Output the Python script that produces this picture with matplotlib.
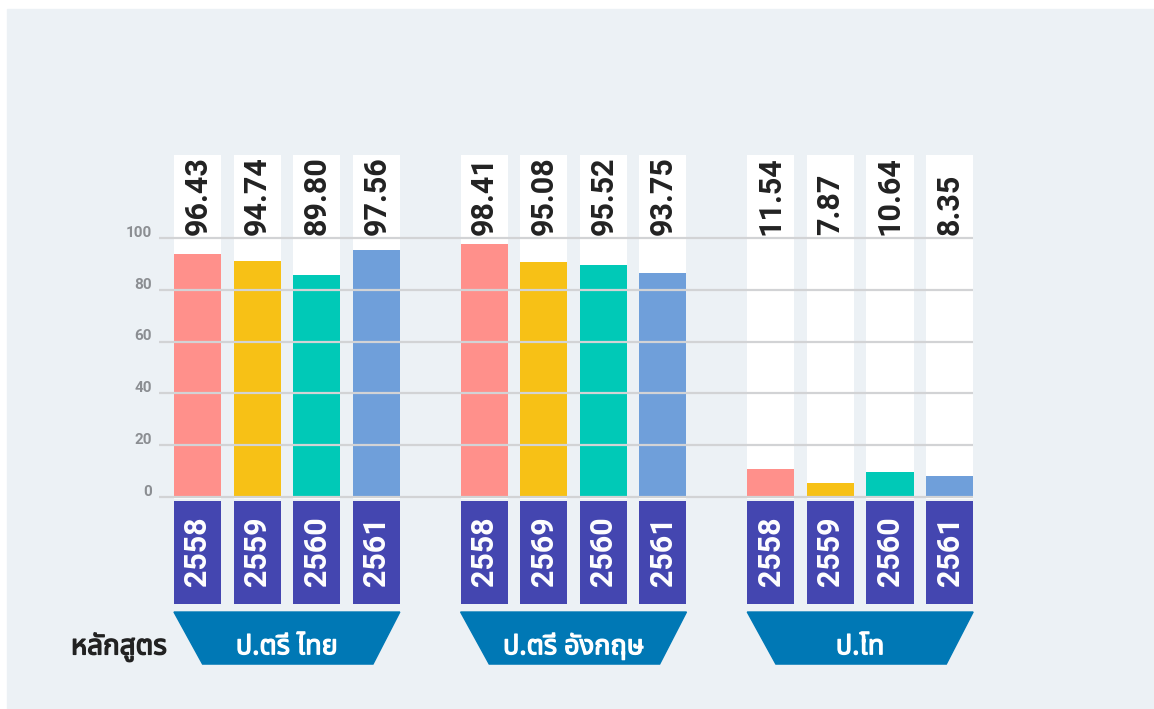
# ร้อยละผู้สำเร็จการศึกษา แยกตามหลักสูตร

import numpy as np
import matplotlib.pyplot as plt
import matplotlib.patheffects as pe
from matplotlib import font_manager
from matplotlib.ft2font import FT2Font
from matplotlib.patches import Polygon, Rectangle

groups = ['ป.ตรี ไทย', 'ป.ตรี อังกฤษ', 'ป.โท']
years = [['2558', '2559', '2560', '2561'],
         ['2558', '2569', '2560', '2561'],
         ['2558', '2559', '2560', '2561']]
value_labels = [['96.43', '94.74', '89.80', '97.56'],
                ['98.41', '95.08', '95.52', '93.75'],
                ['11.54', '7.87', '10.64', '8.35']]
# bar heights as drawn in the picture (not quite the printed values)
bar_heights = [[93.8, 91.1, 85.7, 95.4],
               [97.7, 90.7, 89.6, 86.5],
               [10.8, 5.4, 9.7, 8.1]]
yticks = [0, 20, 40, 60, 80, 100]
axis_title = 'หลักสูตร'

bar_colors = ['#FF908B', '#F7C116', '#00C9B7', '#6F9FDA']
bg = '#ECF1F5'
navy = '#4446B0'
blue = '#0078B5'


def find_thai_font():
    names = []
    for f in font_manager.fontManager.ttflist:
        try:
            if 0x0E01 in FT2Font(f.fname).get_charmap():
                names.append(f.name)
        except Exception:
            pass
    for pref in ['Noto Sans Thai', 'Noto Sans Thai UI', 'Sarabun', 'Kanit', 'Prompt']:
        if pref in names:
            return pref
    for n in names:
        if 'Looped' not in n and 'Sans' in n:
            return n
    return names[0] if names else 'DejaVu Sans'


thai_font = find_thai_font()
num_font = ['Roboto', 'DejaVu Sans']

fig = plt.figure(figsize=(11.54, 7.09), dpi=100)
fig.patches.append(Rectangle((7 / 1154, 0), 1, 1 - 9 / 709, transform=fig.transFigure,
                             color=bg, zorder=-1))
ax = fig.add_axes([0, 0, 1, 1])
ax.set_xlim(-3.314, 16.05)
ax.set_ylim(-81.85, 191.9)
ax.axis('off')

group_step = 4.81
width = 0.79

for g in range(len(groups)):
    xs = g * group_step + np.arange(4)
    ax.bar(xs, 132.8, width=width, bottom=-0.8, color='white', zorder=1)
    ax.bar(xs, bar_heights[g], width=width, color=bar_colors, zorder=2)
    ax.bar(xs, 39.8, width=width, bottom=-41.3, color=navy, zorder=2)
    for x, lab, yr in zip(xs, value_labels[g], years[g]):
        ax.text(x, 101.0, lab, rotation=90, ha='center', va='bottom',
                fontsize=22, fontweight='bold', color='#222222',
                family=num_font, zorder=4)
        ax.text(x, -21.0, yr, rotation=90, ha='center', va='center',
                fontsize=22, fontweight='bold', color='white',
                family=num_font, zorder=4)

    left = xs[0] - width / 2
    right = xs[-1] + width / 2
    trap = Polygon([[left, -44.4], [right, -44.4], [right - 0.45, -64.5], [left + 0.48, -64.5]],
                   closed=True, color=blue, zorder=2)
    ax.add_patch(trap)
    ax.text((left + right) / 2, -58.0, groups[g], ha='center', va='center',
            fontsize=19.5, color='white', family=thai_font, zorder=4,
            path_effects=[pe.withStroke(linewidth=0.9, foreground='white')])

grid_right = 2 * group_step + 3 + width / 2
for t in yticks:
    ax.plot([-0.65, grid_right], [t, t], color='#D2D3D5', lw=1.6, zorder=3,
            solid_capstyle='butt')
    ax.text(-0.76, t + 2.0, str(t), ha='right', va='center', fontsize=11,
            fontweight='bold', color='#8B8E92', family=num_font)

ax.text(-1.32, -58.0, axis_title, ha='center', va='center', fontsize=20,
        color='#222222', family=thai_font,
        path_effects=[pe.withStroke(linewidth=1.0, foreground='#222222')])

fig.savefig('out.png', dpi=100, facecolor='white')
